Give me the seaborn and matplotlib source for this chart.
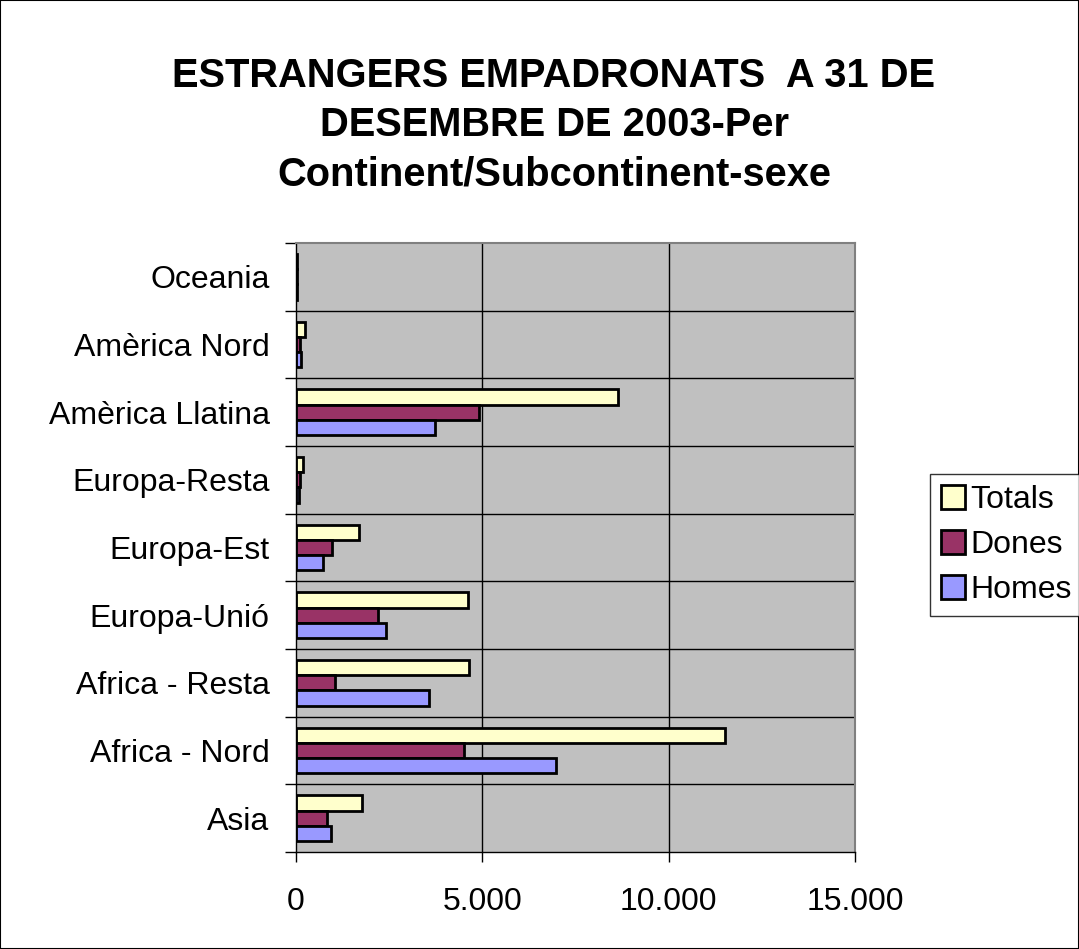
import pandas as pd
import numpy as np
import seaborn as sns
import matplotlib.pyplot as plt
from matplotlib.patches import Rectangle
from matplotlib.ticker import FuncFormatter, FixedLocator

regions = ['Oceania', 'Amèrica Nord', 'Amèrica Llatina', 'Europa-Resta', 'Europa-Est',
           'Europa-Unió', 'Africa - Resta', 'Africa - Nord', 'Asia']
totals = [35, 230, 8640, 190, 1700, 4610, 4640, 11520, 1780]
dones = [15, 100, 4920, 100, 960, 2200, 1050, 4520, 840]
homes = [20, 125, 3730, 90, 730, 2410, 3580, 6990, 940]
series = ['Totals', 'Dones', 'Homes']
colors = ['#FFFFCC', '#993366', '#9999FF']

title_lines = ['ESTRANGERS EMPADRONATS  A 31 DE', 'DESEMBRE DE 2003-Per',
               'Continent/Subcontinent-sexe']

# long form table for seaborn
df = pd.DataFrame({'regio': regions * 3,
                   'valor': totals + dones + homes,
                   'sexe': np.repeat(series, len(regions))})

sns.set_theme(style='white')
plt.rcParams['font.family'] = ['Liberation Sans', 'DejaVu Sans']
plt.rcParams['text.color'] = 'black'
plt.rcParams['xtick.color'] = 'black'
plt.rcParams['ytick.color'] = 'black'

fig = plt.figure(figsize=(10.79, 9.49), dpi=100)
ax = fig.add_axes([296 / 1079, 1 - 852 / 949, 559 / 1079, 609 / 949])
ax.set_facecolor('#C0C0C0')

sns.barplot(data=df, y='regio', x='valor', hue='sexe', hue_order=series,
            palette=colors, orient='h', width=0.67, gap=0, saturation=1,
            edgecolor='black', linewidth=2, ax=ax, legend=True)

ax.set_xlim(0, 15000)
ax.set_ylim(len(regions) - 0.5, -0.5)
ax.set_xlabel('')
ax.set_ylabel('')

# gridlines: vertical at major x ticks, horizontal between categories
ax.xaxis.set_major_locator(FixedLocator([0, 5000, 10000, 15000]))
ax.xaxis.set_major_formatter(FuncFormatter(lambda v, p: f'{int(v):,}'.replace(',', '.')))
for v in [5000, 10000]:
    ax.axvline(v, color='black', lw=1, zorder=0.5)
for b in np.arange(0.5, len(regions) - 0.5, 1):
    ax.axhline(b, color='black', lw=1, zorder=0.5)

ax.yaxis.set_minor_locator(FixedLocator(np.arange(-0.5, len(regions), 1)))
ax.tick_params(axis='y', which='major', length=0, labelsize=23, pad=19)
ax.tick_params(axis='y', which='minor', length=8, width=1, color='black', left=True)
ax.tick_params(axis='x', which='major', length=7, width=1, color='black', bottom=True,
               labelsize=23, pad=18)

for s in ['top', 'right']:
    ax.spines[s].set_color('#808080')
    ax.spines[s].set_linewidth(1.5)
for s in ['left', 'bottom']:
    ax.spines[s].set_color('black')
    ax.spines[s].set_linewidth(1)

handles, labels = ax.get_legend_handles_labels()
ax.get_legend().remove()
leg = fig.legend(handles, labels, loc='upper left', bbox_to_anchor=(930 / 1079, 1 - 474 / 949),
                 fontsize=23, frameon=True, fancybox=False, edgecolor='black',
                 handlelength=0.75, handleheight=0.75, handletextpad=0.15,
                 borderpad=0.35, labelspacing=0.47, borderaxespad=0)
leg.get_frame().set_linewidth(1)
for h in leg.legend_handles:
    h.set_edgecolor('black')
    h.set_linewidth(2)

for i, line in enumerate(title_lines):
    fig.text(554 / 1079, 1 - (87 + 49 * i) / 949, line, ha='center', va='baseline',
             fontsize=28.7, fontweight='bold')

fig.patches.append(Rectangle((0, 0), 1, 1, transform=fig.transFigure, fill=False,
                             edgecolor='black', linewidth=1.5))

fig.savefig('out.png', dpi=100, facecolor='white')
